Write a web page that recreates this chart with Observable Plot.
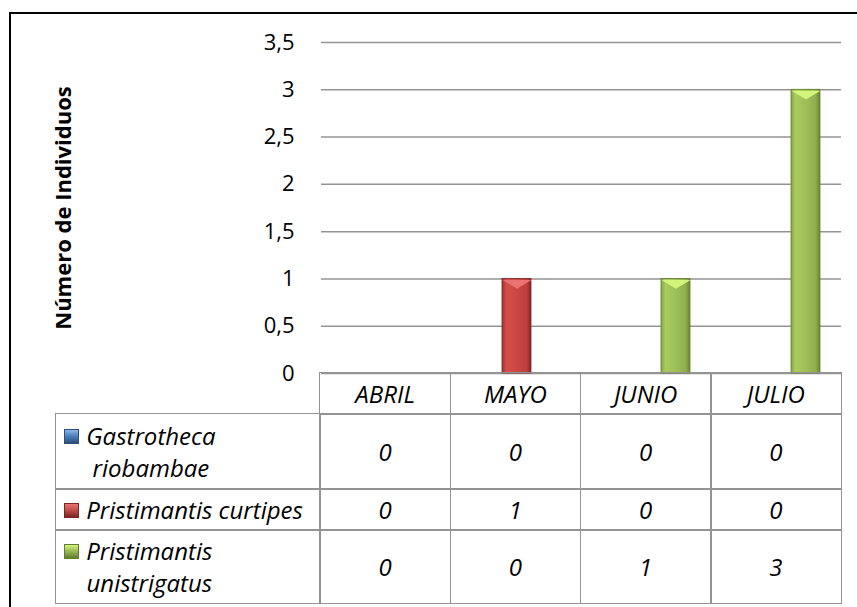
<!DOCTYPE html>
<html>
<head>
<meta charset="utf-8">
<script src="https://cdn.jsdelivr.net/npm/d3@7"></script>
<script src="https://cdn.jsdelivr.net/npm/@observablehq/plot@0.6"></script>
<style>
  body { margin: 0; background: #fff; font-family: "Open Sans", sans-serif; }
  #wrap { position: relative; width: 857px; height: 607px; overflow: hidden; background: #fff; }
  #frame { position: absolute; left: 9px; top: 12px; width: 1000px; height: 1000px;
           border-left: 2px solid #000; border-top: 2px solid #000; box-sizing: border-box; }
  #chart { position: absolute; left: 0; top: 0; }
  #chart svg { overflow: visible; }
  #ylabel { position: absolute; font-weight: 700; font-size: 22px; white-space: nowrap;
            transform: translate(-50%, -50%) rotate(-90deg); color: #000; }
  .cell { position: absolute; box-sizing: border-box; border: 1.5px solid #939393;
          display: flex; align-items: center; justify-content: center;
          font-style: italic; font-size: 24px; color: #000; }
  .legcell { justify-content: flex-start; padding-left: 8px; }
  .leg { display: flex; align-items: flex-start; }
  .icon { width: 15px; height: 15px; margin-top: 9px; margin-right: 7px; flex: none; box-sizing: border-box; }
  .legtext { line-height: 32px; white-space: nowrap; }
  .legtext.wrap { display: flex; flex-direction: column; align-items: center; }
</style>
</head>
<body>
<div id="wrap">
  <div id="frame"></div>
  <div id="chart"></div>
  <div id="ylabel"></div>
  <div id="table"></div>
</div>
<script>
// ---- data ----
const months = ["ABRIL", "MAYO", "JUNIO", "JULIO"];
const species = ["Gastrotheca riobambae", "Pristimantis curtipes", "Pristimantis unistrigatus"];
const gastrotheca = [0, 0, 0, 0];
const curtipes = [0, 1, 0, 0];
const unistrigatus = [0, 0, 1, 3];
const yTicks = [0, 0.5, 1, 1.5, 2, 2.5, 3, 3.5];
const yLabel = "Número de Individuos";

// ---- styles ----
const seriesValues = [gastrotheca, curtipes, unistrigatus];
const baseColors = ["#4f81bd", "#c0504d", "#9bbb59"];
const gradStops = [
  ["#3a6aa5", "#5b8fd0", "#4f81bd", "#3d6a9f", "#2c5282"],
  ["#a3302e", "#d44d4a", "#cc4744", "#bd3e3c", "#862624"],
  ["#86a547", "#a9cb5f", "#9ec059", "#8fae4d", "#688530"]
];
const topColors = ["#8fb6ea", "#e87370", "#d2f47a"];
const edgeColors = ["#2c4f7c", "#7c2624", "#627e2e"];

const rows = [];
months.forEach((m, i) => species.forEach((s, j) => rows.push({month: m, species: s, value: seriesValues[j][i]})));

const triangle = {
  draw(context, size) {
    const r = Math.sqrt(size / Math.PI);
    context.moveTo(-r, 0);
    context.lineTo(r, 0);
    context.lineTo(0, r * 0.6);
    context.closePath();
  }
};

const barMarks = species.map((s, j) => Plot.barY(rows, {
  x: "species", y: "value",
  filter: d => d.species === s && d.value > 0,
  fill: `url(#grad${j})`, stroke: edgeColors[j], strokeWidth: 0.8
}));
const topMarks = species.map((s, j) => Plot.dot(rows, {
  x: "species", y: "value",
  filter: d => d.species === s && d.value > 0,
  symbol: triangle, r: 14.5, fill: topColors[j], stroke: "none", dy: 1
}));

const chart = Plot.plot({
  width: 857,
  height: 376,
  marginLeft: 320,
  marginRight: 16,
  marginTop: 42,
  marginBottom: 3,
  style: {fontFamily: "'Open Sans', sans-serif", fontSize: "22px", color: "#000", background: "transparent", overflow: "visible"},
  facet: {data: rows, x: "month"},
  fx: {domain: months, paddingInner: 0, paddingOuter: 0, axis: null, label: null},
  x: {domain: species, paddingInner: 0, paddingOuter: 0.67, axis: null},
  y: {domain: [0, 3.5], axis: null},
  marks: [
    Plot.gridY(yTicks, {stroke: "#939393", strokeOpacity: 1, strokeWidth: 1.5}),
    Plot.axisY(yTicks, {
      tickSize: 0, tickPadding: 27, line: true, stroke: "#939393", strokeWidth: 1.5,
      fill: "#000", label: null, tickFormat: d => String(d).replace(".", ",")
    }),
    ...barMarks,
    ...topMarks
  ]
});

// gradient definitions for the bars
const svg = d3.select(chart.tagName.toLowerCase() === "svg" ? chart : chart.querySelector("svg"));
const defs = svg.insert("defs", ":first-child");
gradStops.forEach((stops, j) => {
  const g = defs.append("linearGradient").attr("id", `grad${j}`).attr("x1", 0).attr("x2", 1).attr("y1", 0).attr("y2", 0);
  [0, 0.15, 0.5, 0.85, 1].forEach((o, k) => g.append("stop").attr("offset", o).attr("stop-color", stops[k]));
});
document.getElementById("chart").appendChild(chart);

// ---- scale-derived layout for axis label and data table ----
const fxS = chart.scale("fx");
const yS = chart.scale("y");
const left = fxS.range[0], right = fxS.range[1];
const colW = (right - left) / months.length;
const yTop = yS.range[1], yBottom = yS.range[0];

const yl = document.getElementById("ylabel");
yl.textContent = yLabel;
yl.style.left = "62px";
yl.style.top = ((yTop + yBottom) / 2) + "px";

const table = document.getElementById("table");
const legendLeft = 56;
const headerH = 41;
const rowH = [75, 41, 73];
const legendTextMax = 226;
const measureCtx = document.createElement("canvas").getContext("2d");
measureCtx.font = "italic 24px 'Open Sans'";

function cell(x, y, w, h, cls) {
  const d = document.createElement("div");
  d.className = "cell " + (cls || "");
  d.style.left = (x - 0.75) + "px";
  d.style.top = (y - 0.75) + "px";
  d.style.width = (w + 1.5) + "px";
  d.style.height = (h + 1.5) + "px";
  table.appendChild(d);
  return d;
}
months.forEach((m, i) => { cell(left + i * colW, yBottom, colW, headerH).textContent = m; });
let yy = yBottom + headerH;
species.forEach((s, j) => {
  const lc = cell(legendLeft, yy, left - legendLeft, rowH[j], "legcell");
  const leg = document.createElement("div"); leg.className = "leg";
  const ic = document.createElement("div"); ic.className = "icon";
  ic.style.background = `linear-gradient(to bottom, ${topColors[j]} 0%, ${baseColors[j]} 45%, ${edgeColors[j]} 100%)`;
  ic.style.border = `1px solid ${edgeColors[j]}`;
  const tx = document.createElement("div"); tx.className = "legtext";
  if (measureCtx.measureText(s).width > legendTextMax) {
    tx.classList.add("wrap");
    s.split(" ").forEach(w => { const sp = document.createElement("span"); sp.textContent = w; tx.appendChild(sp); });
  } else {
    tx.textContent = s;
  }
  leg.appendChild(ic); leg.appendChild(tx); lc.appendChild(leg);
  months.forEach((m, i) => { cell(left + i * colW, yy, colW, rowH[j]).textContent = String(seriesValues[j][i]); });
  yy += rowH[j];
});
</script>
</body>
</html>
